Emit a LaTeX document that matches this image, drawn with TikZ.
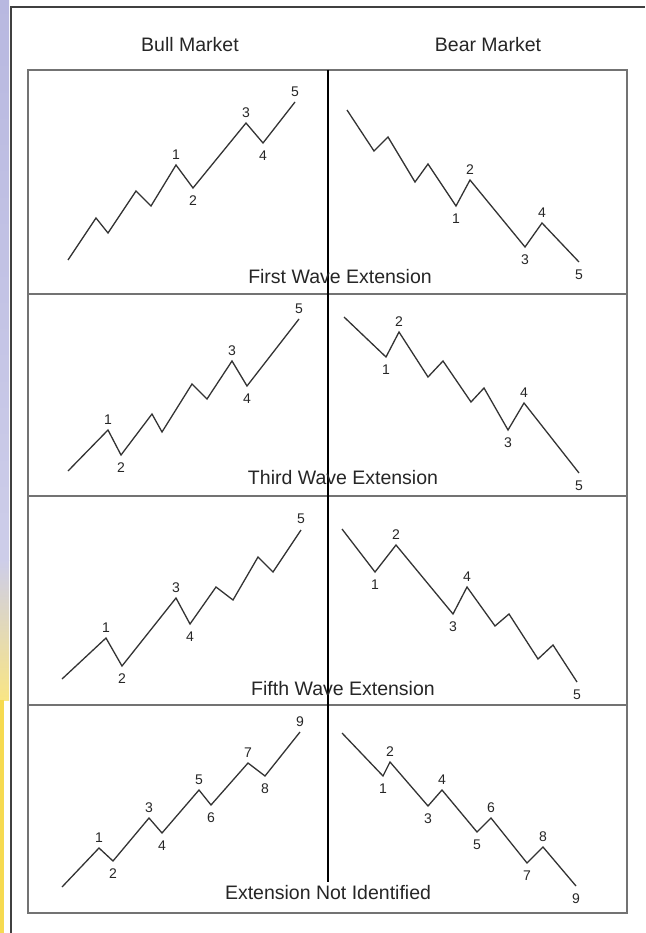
\documentclass[tikz,border=0pt]{standalone}
\usepackage{fontspec}
\setmainfont{Liberation Sans}
\usetikzlibrary{positioning}

\definecolor{lavend}{RGB}{184,184,224}
\definecolor{sunny}{RGB}{246,218,80}

\begin{document}
\begin{tikzpicture}[
		x=1pt,y=-1pt,
		wave/.style={draw=black!80,line width=1.3pt},
		num/.style={inner sep=0pt,font=\fontsize{14}{14}\selectfont,text=black!85},
		caption/.style={inner sep=0pt,font=\fontsize{19.5}{19.5}\selectfont,text=black!85},
		outerframe/.style={draw=black!75,line width=2pt},
		rowrule/.style={draw=black!55,line width=2pt}
		]
		
		\useasboundingbox (0,0) rectangle (645,933);
		\fill[white] (0,0) rectangle (645,933);
		
		% page strip on the left
		\shade[top color=lavend,bottom color=lavend!70] (0,0) rectangle (9,560);
		\shade[top color=lavend!70,bottom color=sunny!70] (0,560) rectangle (9,700);
		\fill[sunny] (0,700) rectangle (3.5,933);
		\draw[outerframe] (11,933) -- (11,7) -- (645,7);
		
		% headers
		\node[caption] (bull) at (190,45) {Bull Market};
		\node[caption] (bear) at (488,45) {Bear Market};
		
		% table
		\draw[rowrule] (28,70) rectangle (627,913);
		\draw[rowrule] (28,294) -- (627,294);
		\draw[rowrule] (28,496) -- (627,496);
		\draw[rowrule] (28,705) -- (627,705);
		\draw[black,line width=1.2pt] (328,70) -- (328,882);
		
		% first wave extension
		\draw[wave] (68,260) -- (96,218) -- (108,233) -- (136,191) -- (151,206)
		-- (176,165) coordinate (a1) -- (193,188) coordinate (a2) -- (246,123) coordinate (a3)
		-- (263,143) coordinate (a4) -- (295,102) coordinate (a5);
		\node[num,above=5pt of a1] (a1n) {1};
		\node[num,below=7.5pt of a2] (a2n) {2};
		\node[num,above=5pt of a3] (a3n) {3};
		\node[num,below=7.5pt of a4] (a4n) {4};
		\node[num,above=5pt of a5] (a5n) {5};
		
		\draw[wave] (347,110) -- (374,151) -- (388,137) -- (415,182) -- (428,164)
		-- (456,206) coordinate (b1) -- (470,180) coordinate (b2) -- (525,247) coordinate (b3)
		-- (542,223) coordinate (b4) -- (579,262) coordinate (b5);
		\node[num,below=7.5pt of b1] (b1n) {1};
		\node[num,above=5pt of b2] (b2n) {2};
		\node[num,below=7.5pt of b3] (b3n) {3};
		\node[num,above=5pt of b4] (b4n) {4};
		\node[num,below=7.5pt of b5] (b5n) {5};
		
		\node[caption] (first) at (340,277) {First Wave Extension};
		
		% third wave extension
		\draw[wave] (68,471) -- (108,430) coordinate (c1) -- (121,455) coordinate (c2)
		-- (152,414) -- (162,432) -- (192,384) -- (207,399)
		-- (232,361) coordinate (c3) -- (247,386) coordinate (c4) -- (299,319) coordinate (c5);
		\node[num,above=5pt of c1] (c1n) {1};
		\node[num,below=7.5pt of c2] (c2n) {2};
		\node[num,above=5pt of c3] (c3n) {3};
		\node[num,below=7.5pt of c4] (c4n) {4};
		\node[num,above=5pt of c5] (c5n) {5};
		
		\draw[wave] (344,317) -- (386,357) coordinate (d1) -- (399,332) coordinate (d2)
		-- (428,377) -- (443,361) -- (471,402) -- (484,388)
		-- (508,430) coordinate (d3) -- (524,403) coordinate (d4) -- (579,473) coordinate (d5);
		\node[num,below=7.5pt of d1] (d1n) {1};
		\node[num,above=5pt of d2] (d2n) {2};
		\node[num,below=7.5pt of d3] (d3n) {3};
		\node[num,above=5pt of d4] (d4n) {4};
		\node[num,below=7.5pt of d5] (d5n) {5};
		
		\node[caption] (third) at (343,478) {Third Wave Extension};
		
		% fifth wave extension
		\draw[wave] (62,679) -- (106,638) coordinate (e1) -- (122,666) coordinate (e2)
		-- (176,598) coordinate (e3) -- (190,624) coordinate (e4)
		-- (216,587) -- (233,600) -- (258,557) -- (273,572) -- (301,530) coordinate (e5);
		\node[num,above=5pt of e1] (e1n) {1};
		\node[num,below=7.5pt of e2] (e2n) {2};
		\node[num,above=5pt of e3] (e3n) {3};
		\node[num,below=7.5pt of e4] (e4n) {4};
		\node[num,above=6.5pt of e5] (e5n) {5};
		
		\draw[wave] (342,529) -- (375,572) coordinate (f1) -- (396,545) coordinate (f2)
		-- (453,614) coordinate (f3) -- (467,587) coordinate (f4)
		-- (495,626) -- (509,614) -- (538,659) -- (553,645) -- (577,682) coordinate (f5);
		\node[num,below=7.5pt of f1] (f1n) {1};
		\node[num,above=5pt of f2] (f2n) {2};
		\node[num,below=7.5pt of f3] (f3n) {3};
		\node[num,above=5pt of f4] (f4n) {4};
		\node[num,below=7.5pt of f5] (f5n) {5};
		
		\node[caption] (fifth) at (343,689) {Fifth Wave Extension};
		
		% extension not identified
		\draw[wave] (62,887) -- (99,848) coordinate (g1) -- (113,861) coordinate (g2)
		-- (149,818) coordinate (g3) -- (162,833) coordinate (g4)
		-- (199,790) coordinate (g5) -- (211,805) coordinate (g6)
		-- (248,763) coordinate (g7) -- (265,776) coordinate (g8) -- (300,732) coordinate (g9);
		\node[num,above=5pt of g1] (g1n) {1};
		\node[num,below=7.5pt of g2] (g2n) {2};
		\node[num,above=5pt of g3] (g3n) {3};
		\node[num,below=7.5pt of g4] (g4n) {4};
		\node[num,above=5pt of g5] (g5n) {5};
		\node[num,below=7.5pt of g6] (g6n) {6};
		\node[num,above=5pt of g7] (g7n) {7};
		\node[num,below=7.5pt of g8] (g8n) {8};
		\node[num,above=5pt of g9] (g9n) {9};
		
		\draw[wave] (342,733) -- (383,776) coordinate (h1) -- (390,762) coordinate (h2)
		-- (428,806) coordinate (h3) -- (442,790) coordinate (h4)
		-- (477,832) coordinate (h5) -- (491,818) coordinate (h6)
		-- (527,863) coordinate (h7) -- (543,847) coordinate (h8) -- (576,886) coordinate (h9);
		\node[num,below=7.5pt of h1] (h1n) {1};
		\node[num,above=5pt of h2] (h2n) {2};
		\node[num,below=7.5pt of h3] (h3n) {3};
		\node[num,above=5pt of h4] (h4n) {4};
		\node[num,below=7.5pt of h5] (h5n) {5};
		\node[num,above=5pt of h6] (h6n) {6};
		\node[num,below=7.5pt of h7] (h7n) {7};
		\node[num,above=5pt of h8] (h8n) {8};
		\node[num,below=7.5pt of h9] (h9n) {9};
		
		\node[caption] (noext) at (328,893) {Extension Not Identified};
		
	\end{tikzpicture}
\end{document}
